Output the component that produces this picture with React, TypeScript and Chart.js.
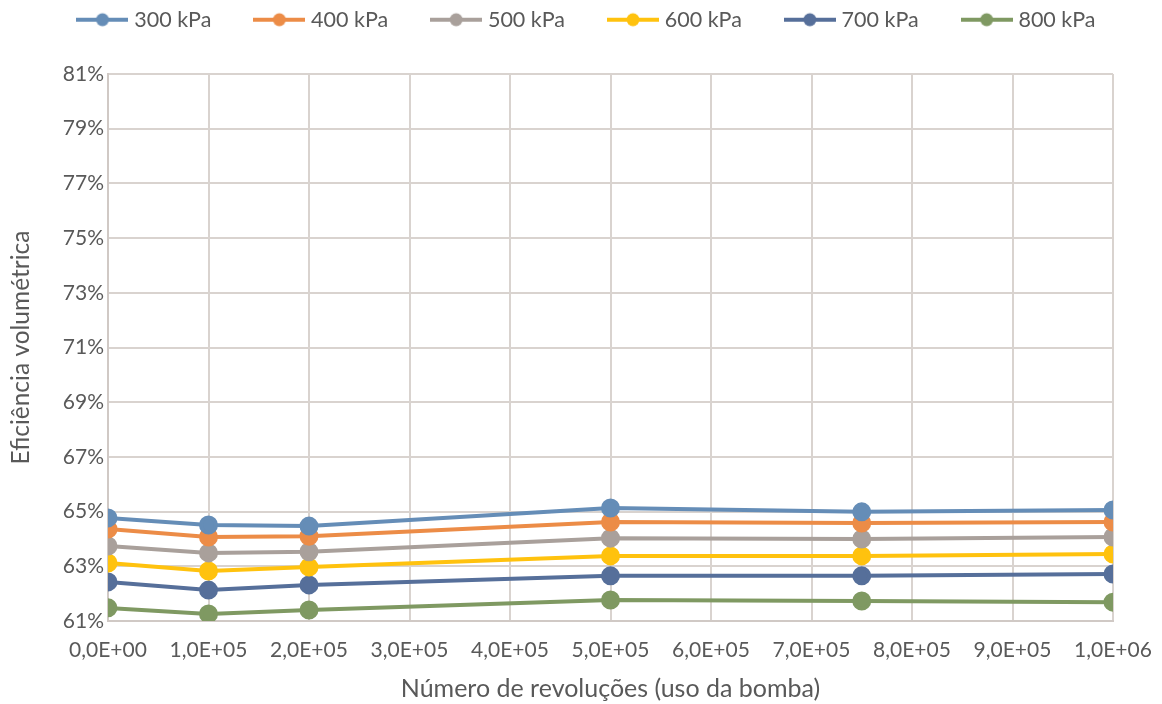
import React, { useEffect, useRef } from "react";
import { Chart, registerables } from "chart.js";

Chart.register(...registerables);

const revolutions = [0, 100000, 200000, 500000, 750000, 1000000];
const seriesLabels = ["300 kPa", "400 kPa", "500 kPa", "600 kPa", "700 kPa", "800 kPa"];
const s300 = [64.77, 64.51, 64.47, 65.13, 64.99, 65.06];
const s400 = [64.36, 64.07, 64.1, 64.62, 64.58, 64.62];
const s500 = [63.74, 63.49, 63.53, 64.03, 64.0, 64.07];
const s600 = [63.12, 62.83, 62.97, 63.38, 63.38, 63.45];
const s700 = [62.43, 62.13, 62.32, 62.65, 62.65, 62.72];
const s800 = [61.48, 61.26, 61.4, 61.77, 61.73, 61.69];
const seriesValues = [s300, s400, s500, s600, s700, s800];
const seriesColors = ["#658DB7", "#EC8C47", "#A9A09B", "#FFC20E", "#566F9A", "#7F9962"];

const FONT = "Lato, 'Open Sans', sans-serif";
const TEXT = "#595959";

function legendImage(color: string) {
  const c = document.createElement("canvas");
  c.width = 52;
  c.height = 16;
  const ctx = c.getContext("2d")!;
  ctx.strokeStyle = color;
  ctx.lineWidth = 4;
  ctx.beginPath();
  ctx.moveTo(0, 8);
  ctx.lineTo(52, 8);
  ctx.stroke();
  ctx.fillStyle = color;
  ctx.beginPath();
  ctx.arc(26, 8, 6.5, 0, Math.PI * 2);
  ctx.fill();
  return c;
}

function fmtSci(v: number) {
  if (v === 0) return "0,0E+00";
  const e = Math.floor(Math.log10(Math.abs(v)) + 1e-9);
  const m = v / Math.pow(10, e);
  const es = (e < 10 ? "0" : "") + e;
  return m.toFixed(1).replace(".", ",") + "E+" + es;
}

export default function App() {
  const ref = useRef<HTMLCanvasElement>(null);
  useEffect(() => {
    document.body.style.margin = "0";
    const imgs = seriesColors.map(legendImage);
    const chart = new Chart(ref.current!, {
      type: "line",
      data: {
        datasets: seriesLabels.map((label, i) => ({
          label,
          data: revolutions.map((x, j) => ({ x, y: seriesValues[i][j] })),
          borderColor: seriesColors[i],
          backgroundColor: seriesColors[i],
          pointBackgroundColor: seriesColors[i],
          pointBorderColor: seriesColors[i],
          borderWidth: 4,
          pointRadius: 7.5,
          pointStyle: "circle",
          tension: 0,
        })),
      },
      options: {
        animation: false,
        responsive: false,
        layout: { padding: { left: 0, right: 49, top: 0, bottom: 0 } },
        plugins: {
          tooltip: { enabled: false },
          legend: {
            position: "top",
            labels: {
              usePointStyle: true,
              pointStyleWidth: 42,
              padding: 47,
              color: TEXT,
              font: { family: FONT, size: 21.5 },
              generateLabels: (ch: any) =>
                ch.data.datasets.map((ds: any, i: number) => ({
                  text: ds.label,
                  fillStyle: seriesColors[i],
                  strokeStyle: seriesColors[i],
                  lineWidth: 0,
                  pointStyle: imgs[i],
                  hidden: false,
                  datasetIndex: i,
                  fontColor: TEXT,
                })),
            },
          },
        },
        scales: {
          x: {
            type: "linear",
            min: 0,
            max: 1000000,
            ticks: {
              stepSize: 100000,
              color: TEXT,
              font: { family: FONT, size: 21 },
              padding: 17,
              maxRotation: 0,
              callback: (v: any) => fmtSci(Number(v)),
            },
            grid: { color: "#D9D3CF", lineWidth: 2, drawTicks: false },
            border: { color: "#D0C9C5", width: 2 },
            title: {
              display: true,
              text: "Número de revoluções (uso da bomba)",
              color: TEXT,
              font: { family: FONT, size: 25 },
              padding: { top: 4, bottom: 0 },
            },
            afterFit: (s: any) => {
              s.height = 83;
              s.paddingLeft = 0;
              s.paddingRight = 0;
            },
          },
          y: {
            min: 61,
            max: 81,
            ticks: {
              stepSize: 1,
              color: TEXT,
              font: { family: FONT, size: 21 },
              padding: 4,
              callback: (v: any) => (Number(v) % 2 === 1 ? v + "%" : null),
            },
            grid: {
              drawTicks: false,
              lineWidth: 2,
              color: (ctx: any) =>
                ctx.tick && Number(ctx.tick.value) % 2 === 1 ? "#D9D3CF" : "#EEEEEE",
            },
            border: { color: "#D0C9C5", width: 2 },
            title: {
              display: true,
              text: "Eficiência volumétrica",
              color: TEXT,
              font: { family: FONT, size: 24.5 },
              padding: { top: 6, bottom: 0 },
            },
            afterFit: (s: any) => {
              s.width = 108;
            },
          },
        },
      },
      plugins: [
        {
          id: "legendPlacement",
          beforeInit(ch: any) {
            const lg = ch.legend;
            if (!lg) return;
            const orig = lg.fit;
            lg.fit = function () {
              lg.maxWidth = 1600;
              orig.call(lg);
              lg.width = 1162;
              lg.height = 74;
            };
          },
          afterLayout(ch: any) {
            const lg = ch.legend;
            if (!lg) return;
            lg.left = 15;
            lg.right = 1162;
            lg.width = lg.right - lg.left;
            lg.top = -38;
            lg.bottom = lg.top + lg.height;
          },
        },
      ],
    } as any);
    return () => chart.destroy();
  }, []);
  return (
    <div style={{ width: 1162, height: 704 }}>
      <canvas ref={ref} width={1162} height={704} style={{ display: "block" }} />
    </div>
  );
}
